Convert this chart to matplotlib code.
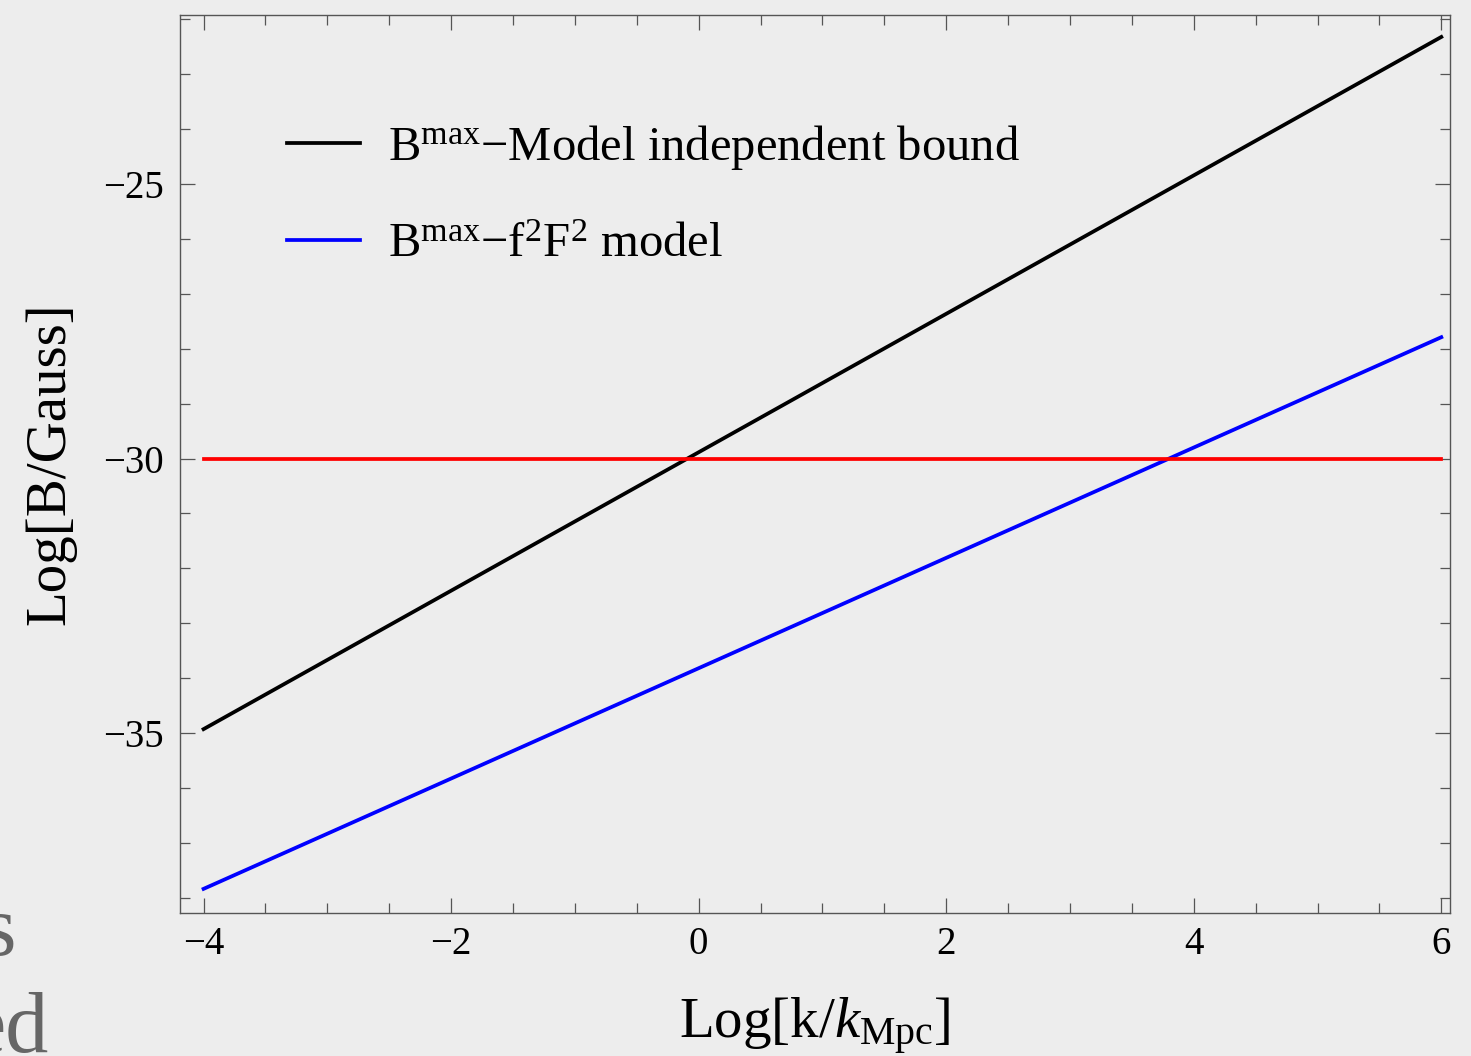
import numpy as np
import matplotlib
matplotlib.use('Agg')
import matplotlib.pyplot as plt
from matplotlib.ticker import MultipleLocator

# Data (line end points)
log_k = [-4, 6]
b_model_indep = [-34.93, -22.32]
b_f2F2 = [-37.84, -27.79]
b_limit = [-30, -30]

labels = [r'B$^{\rm max}$$-$Model independent bound',
          r'B$^{\rm max}$$-$f$^2$F$^2$ model']

plt.rcParams['font.family'] = ['Liberation Serif', 'DejaVu Serif']
plt.rcParams['mathtext.fontset'] = 'custom'
plt.rcParams['mathtext.rm'] = 'Liberation Serif'
plt.rcParams['mathtext.it'] = 'Liberation Serif:italic'
plt.rcParams['axes.unicode_minus'] = True

bg = '#ededed'
frame = '#555555'

fig = plt.figure(figsize=(14.71, 10.56), dpi=100, facecolor=bg)
ax = fig.add_axes([0.1224, 0.1354, 0.8633, 0.8504], facecolor=bg)

ax.plot(log_k, b_model_indep, color='black', lw=2.7, label=labels[0])
ax.plot(log_k, b_f2F2, color='#0000ff', lw=2.7, label=labels[1])
ax.plot(log_k, b_limit, color='#ff0000', lw=2.7)

ax.set_xlim(-4.19, 6.07)
ax.set_ylim(-38.28, -21.92)

ax.xaxis.set_major_locator(MultipleLocator(2))
ax.xaxis.set_minor_locator(MultipleLocator(0.5))
ax.yaxis.set_major_locator(MultipleLocator(5))
ax.yaxis.set_minor_locator(MultipleLocator(1))

ax.tick_params(which='both', direction='in', top=True, right=True,
               color=frame, width=0.9, labelsize=28)
ax.tick_params(which='major', length=11)
ax.tick_params(which='minor', length=7)
ax.tick_params(axis='x', which='major', pad=9)
ax.tick_params(axis='y', which='major', pad=12)
for s in ax.spines.values():
    s.set_color(frame)
    s.set_linewidth(1.0)

ax.set_xlabel(r'Log[k/$k_{\rm Mpc}$]', fontsize=41, labelpad=24)
ax.set_ylabel('Log[B/Gauss]', fontsize=41, labelpad=19)

leg = ax.legend(loc='upper left', bbox_to_anchor=(0.05, 0.928), frameon=False,
                fontsize=35, handlelength=1.5, handletextpad=0.58,
                labelspacing=1.05)

# bits of the page text behind the figure
fig.text(-0.012, 0.096, 's', fontsize=62, color='#666666')
fig.text(-0.022, 0.004, 'ed', fontsize=62, color='#666666')

fig.savefig('out.png', dpi=100, facecolor=bg)
